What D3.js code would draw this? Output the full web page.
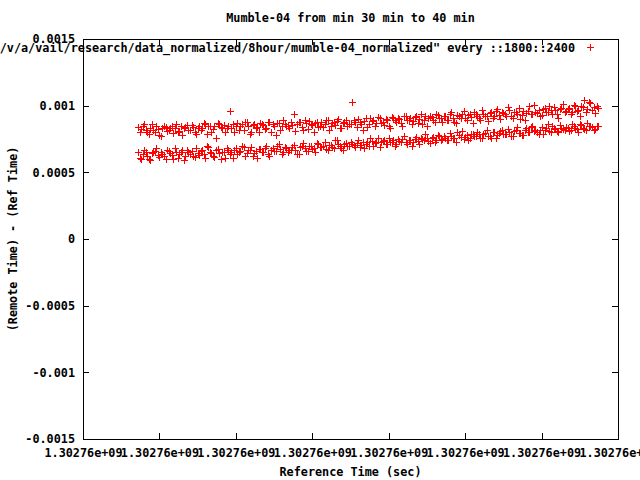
<!DOCTYPE html>
<html>
<head>
<meta charset="utf-8">
<script src="https://cdn.jsdelivr.net/npm/d3@7/dist/d3.min.js"></script>
<style>
  html, body { margin: 0; padding: 0; background: #fff; }
  svg { display: block; }
  text { font-family: "DejaVu Sans Mono", monospace; font-weight: bold; font-size: 11.8px; fill: #000; }
</style>
</head>
<body>
<svg id="chart" width="640" height="480"></svg>
<script>
// ---- data (offset seconds from start of x axis; values in microseconds) ----
const title = "Mumble-04 from min 30 min to 40 min";
const keyLabel = "\"/v/a/vail/research/data_normalized/8hour/mumble-04_normalized\" every ::1800::2400";
const xLabel = "Reference Time (sec)";
const yLabel = "(Remote Time) - (Ref Time)";
const xTickValues = [0, 100, 200, 300, 400, 500, 600, 700];
const xTickLabels = ["1.30276e+09","1.30276e+09","1.30276e+09","1.30276e+09","1.30276e+09","1.30276e+09","1.30276e+09","1.30276e+09"];
const yTickValues = [0.0015, 0.001, 0.0005, 0, -0.0005, -0.001, -0.0015];
const yTickLabels = ["0.0015", "0.001", "0.0005", "0", "-0.0005", "-0.001", "-0.0015"];

const upperTimes = d3.range(72, 673, 4);
const upperUs = [
  840, 825, 860, 800, 835, 820, 845, 780, 830, 840,
  815, 850, 835, 805, 845, 830, 855, 820, 840, 790,
  850, 835, 860, 845, 800, 850, 870, 840, 855, 830,
  960, 865, 845, 820, 860, 875, 850, 800, 865, 840,
  870, 855, 835, 880, 860, 780, 870, 850, 865, 845,
  880, 940, 860, 875, 820, 870, 885, 855, 870, 840,
  880, 865, 890, 850, 875, 885, 830, 870, 890, 860,
  1030, 880, 900, 865, 885, 840, 905, 890, 870, 910,
  880, 900, 850, 915, 890, 905, 870, 920, 895, 910,
  885, 920, 900, 860, 925, 905, 915, 880, 930, 910,
  920, 895, 935, 910, 870, 925, 940, 905, 930, 915,
  950, 925, 890, 940, 920, 945, 910, 960, 930, 950,
  935, 990, 920, 955, 940, 900, 960, 945, 1000, 935,
  955, 970, 930, 980, 950, 965, 990, 940, 975, 1010,
  960, 985, 950, 995, 970, 1000, 1040, 975, 1020, 990,
  1000
];
const upperTimes2 = d3.range(74, 675, 4);
const upperUs2 = [
  800, 850, 815, 790, 860, 805, 825, 770, 845, 810,
  830, 795, 865, 810, 780, 840, 820, 855, 800, 835,
  815, 870, 790, 845, 825, 760, 860, 835, 805, 850,
  830, 800, 870, 845, 815, 880, 790, 855, 835, 805,
  860, 825, 880, 800, 850, 870, 815, 890, 845, 830,
  855, 810, 880, 840, 895, 825, 860, 800, 875, 850,
  840, 890, 815, 870, 855, 900, 830, 880, 845, 865,
  890, 840, 875, 820, 905, 860, 885, 850, 915, 870,
  855, 895, 830, 910, 875, 900, 845, 925, 890, 860,
  915, 870, 935, 895, 850, 920, 890, 940, 905, 875,
  925, 895, 950, 880, 930, 910, 960, 895, 935, 870,
  940, 910, 965, 925, 885, 950, 920, 975, 900, 945,
  925, 970, 905, 950, 985, 930, 890, 960, 940, 1005,
  945, 920, 975, 955, 1000, 935, 965, 910, 985, 950,
  975, 940, 1005, 960, 925, 990, 955, 1030, 970, 945,
  985
];
const lowerTimes = d3.range(74, 675, 4);
const lowerUs = [
  610, 640, 655, 600, 645, 660, 630, 650, 620, 665,
  645, 600, 655, 640, 670, 625, 650, 660, 615, 645,
  660, 640, 700, 650, 620, 665, 645, 655, 610, 670,
  650, 665, 635, 660, 690, 645, 670, 625, 660, 675,
  655, 680, 640, 670, 660, 700, 675, 650, 685, 665,
  690, 670, 640, 695, 680, 660, 700, 685, 720, 690,
  700, 675, 705, 690, 740, 710, 685, 715, 700, 725,
  705, 720, 690, 730, 715, 700, 735, 720, 760, 725,
  740, 715, 730, 745, 710, 735, 750, 725, 745, 700,
  750, 735, 760, 740, 755, 720, 765, 745, 770, 750,
  760, 740, 775, 755, 800, 765, 750, 780, 760, 790,
  770, 785, 755, 795, 775, 760, 800, 780, 810, 790,
  785, 805, 770, 815, 795, 780, 820, 800, 840, 810,
  800, 820, 790, 830, 810, 850, 825, 805, 835, 820,
  830, 815, 845, 825, 860, 835, 820, 850, 840, 825,
  845
];
const lowerTimes2 = d3.range(72, 673, 4);
const lowerUs2 = [
  650, 600, 670, 625, 590, 655, 680, 615, 640, 600,
  660, 630, 685, 610, 650, 595, 670, 640, 620, 680,
  630, 665, 605, 690, 645, 615, 675, 600, 655, 685,
  640, 610, 680, 655, 700, 620, 665, 690, 645, 610,
  675, 650, 700, 625, 685, 660, 710, 640, 690, 655,
  665, 705, 640, 690, 720, 660, 700, 675, 650, 715,
  690, 725, 670, 705, 680, 740, 700, 665, 720, 695,
  715, 690, 745, 705, 680, 730, 755, 700, 725, 690,
  735, 710, 760, 725, 700, 750, 730, 775, 715, 745,
  730, 765, 710, 750, 785, 735, 760, 725, 780, 745,
  770, 740, 795, 755, 730, 780, 810, 765, 745, 790,
  775, 805, 760, 790, 820, 770, 800, 755, 795, 815,
  790, 825, 770, 810, 840, 795, 780, 830, 805, 850,
  815, 790, 840, 820, 860, 800, 835, 810, 855, 825,
  840, 810, 865, 830, 800, 855, 825, 870, 845, 815,
  850
];

// ---- layout ----
const svg = d3.select("#chart");
const L = 83, R = 618, T = 39, B = 439;
const x = d3.scaleLinear().domain([0, 700]).range([L, R]);
const y = d3.scaleLinear().domain([-0.0015, 0.0015]).range([B, T]);
const tick = 6;

// axes
const gB = svg.append("g").attr("transform", `translate(0,${B})`)
  .call(d3.axisBottom(x).tickValues(xTickValues).tickSizeInner(-tick).tickSizeOuter(0).tickPadding(10)
    .tickFormat((d, i) => xTickLabels[i]));
const gT = svg.append("g").attr("transform", `translate(0,${T})`)
  .call(d3.axisTop(x).tickValues(xTickValues).tickSizeInner(-tick).tickSizeOuter(0).tickFormat(""));
const gL = svg.append("g").attr("transform", `translate(${L},0)`)
  .call(d3.axisLeft(y).tickValues(yTickValues).tickSizeInner(-tick).tickSizeOuter(0).tickPadding(8)
    .tickFormat((d, i) => yTickLabels[i]));
const gR = svg.append("g").attr("transform", `translate(${R},0)`)
  .call(d3.axisRight(y).tickValues(yTickValues).tickSizeInner(-tick).tickSizeOuter(0).tickFormat(""));
[gB, gT, gL, gR].forEach(g => {
  g.select(".domain").remove();
  g.selectAll("line").attr("stroke", "#000").attr("shape-rendering", "crispEdges");
  g.selectAll("text").attr("font-family", null).attr("font-size", null).style("fill", "#000");
});
svg.append("rect").attr("x", L + 0.5).attr("y", T + 0.5).attr("width", R - L).attr("height", B - T)
  .attr("fill", "none").attr("stroke", "#000").attr("shape-rendering", "crispEdges");

// points
function cross(px, py, s) {
  const cx = Math.round(px) + 0.5, cy = Math.round(py) + 0.5;
  return `M${cx - s},${cy}H${cx + s}M${cx},${cy - s}V${cy + s}`;
}
const pts = [];
[[upperTimes, upperUs], [upperTimes2, upperUs2], [lowerTimes, lowerUs], [lowerTimes2, lowerUs2]]
  .forEach(([ts, vs]) => ts.forEach((t, i) => pts.push([t, vs[i] * 1e-6])));
svg.append("path")
  .attr("d", pts.map(p => cross(x(p[0]), y(p[1]), 3.5)).join(""))
  .attr("stroke", "#ff0000").attr("stroke-width", 1).attr("fill", "none")
  .attr("shape-rendering", "crispEdges");

// title and labels
svg.append("text").attr("x", (L + R) / 2).attr("y", 18).attr("dy", "0.35em")
  .attr("text-anchor", "middle").text(title);
svg.append("text").attr("x", (L + R) / 2).attr("y", 472).attr("dy", "0.35em")
  .attr("text-anchor", "middle").text(xLabel);
svg.append("text").attr("transform", `translate(13,${(T + B) / 2}) rotate(-90)`).attr("dy", "0.35em")
  .attr("text-anchor", "middle").text(yLabel);

// key
svg.append("text").attr("x", 575).attr("y", 48).attr("dy", "0.35em")
  .attr("text-anchor", "end").text(keyLabel);
svg.append("path").attr("d", cross(590, 47, 3.5))
  .attr("stroke", "#ff0000").attr("fill", "none").attr("shape-rendering", "crispEdges");
</script>
</body>
</html>
